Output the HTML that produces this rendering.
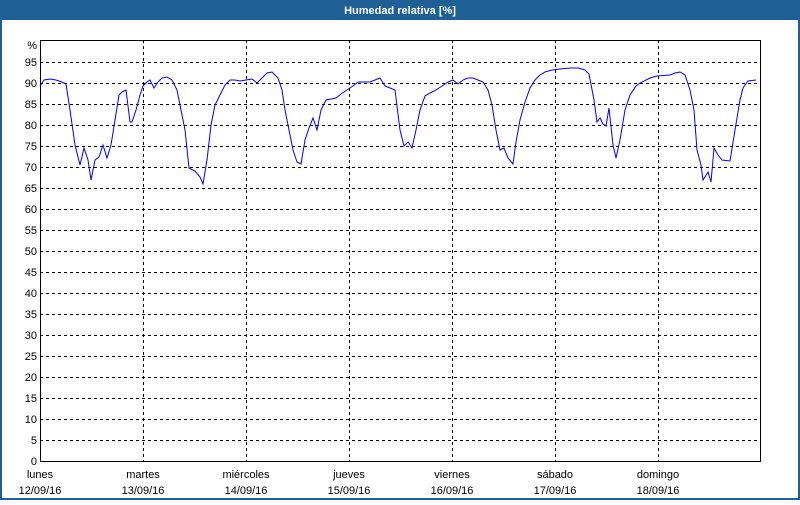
<!DOCTYPE html>
<html><head><meta charset="utf-8"><style>
body{margin:0;width:800px;height:500px;overflow:hidden;background:#fff;font-family:"Liberation Sans",Tahoma,sans-serif}
</style></head><body>
<svg width="800" height="500" xmlns="http://www.w3.org/2000/svg" font-family="Liberation Sans, sans-serif" font-size="11">
<rect x="0" y="0" width="800" height="500" fill="#1e5f96"/>
<rect x="2" y="20" width="796" height="478" fill="#fff"/>
<text x="400" y="14" fill="#fff" font-weight="bold" text-anchor="middle">Humedad relativa [%]</text>
<g stroke="#000" stroke-dasharray="3,3" stroke-width="1">
<path d="M40 440.5H760M40 419.5H760M40 398.5H760M40 377.5H760M40 356.5H760M40 335.5H760M40 314.5H760M40 293.5H760M40 272.5H760M40 251.5H760M40 230.5H760M40 209.5H760M40 188.5H760M40 167.5H760M40 146.5H760M40 125.5H760M40 104.5H760M40 83.5H760M40 62.5H760"/>
<path d="M143.5 40V461M246.5 40V461M349.5 40V461M452.5 40V461M555.5 40V461M658.5 40V461"/>
</g>
<rect x="40.5" y="40.5" width="720" height="421" fill="none" stroke="#000"/>
<g text-anchor="end" fill="#000">
<text x="37" y="465">0</text><text x="37" y="444">5</text><text x="37" y="423">10</text><text x="37" y="402">15</text><text x="37" y="381">20</text><text x="37" y="360">25</text><text x="37" y="339">30</text><text x="37" y="318">35</text><text x="37" y="297">40</text><text x="37" y="276">45</text><text x="37" y="255">50</text><text x="37" y="234">55</text><text x="37" y="213">60</text><text x="37" y="192">65</text><text x="37" y="171">70</text><text x="37" y="150">75</text><text x="37" y="129">80</text><text x="37" y="108">85</text><text x="37" y="87">90</text><text x="37" y="66">95</text><text x="37" y="49">%</text>
</g>
<g text-anchor="middle" fill="#000">
<text x="40" y="478">lunes</text><text x="40" y="494">12/09/16</text>
<text x="143" y="478">martes</text><text x="143" y="494">13/09/16</text>
<text x="246" y="478">miércoles</text><text x="246" y="494">14/09/16</text>
<text x="349" y="478">jueves</text><text x="349" y="494">15/09/16</text>
<text x="452" y="478">viernes</text><text x="452" y="494">16/09/16</text>
<text x="555" y="478">sábado</text><text x="555" y="494">17/09/16</text>
<text x="658" y="478">domingo</text><text x="658" y="494">18/09/16</text>
</g>
<polyline fill="none" stroke="#0000ff" stroke-width="1" points="40,86 44,80 50,79 56,80 62,82 66,84 70,110 75,145 80,165 84,148 88,160 91,180 95,160 99,157 103,145 107,158 111,145 115,120 119,95 122,92 126,90 130,122 132,122 136,110 140,95 143,86 147,82 150,80 154,88 158,82 162,78 167,77 172,80 177,90 181,110 185,130 189,168 195,171 200,177 203,184 207,160 211,125 215,105 220,95 225,85 230,80 235,80 240,81 246,80 252,79 257,83 262,78 267,73 272,72 278,78 282,90 285,110 289,130 293,150 297,162 301,164 305,140 309,128 313,118 317,130 321,110 326,100 331,99 336,98 341,94 347,90 353,86 358,82 364,82 370,82 375,80 380,78 385,86 390,88 395,90 400,130 404,146 408,142 412,148 416,130 420,110 425,96 430,93 436,90 442,86 448,82 453,80 458,84 463,80 468,78 473,78 478,80 483,82 488,90 492,105 496,130 500,150 504,148 508,158 513,164 516,142 520,120 525,102 530,88 535,80 540,75 545,72 552,70 560,69 570,68 578,68 585,70 589,74 594,100 597,122 600,118 603,124 606,126 609,108 613,145 616,158 620,140 625,110 630,95 636,86 640,83 650,78 657,76 670,75 675,73 680,72 685,75 690,90 694,110 697,150 701,165 703,180 708,172 711,182 714,148 718,155 722,160 730,161 735,130 740,100 743,88 748,81 756,80"/>
</svg>
</body></html>
